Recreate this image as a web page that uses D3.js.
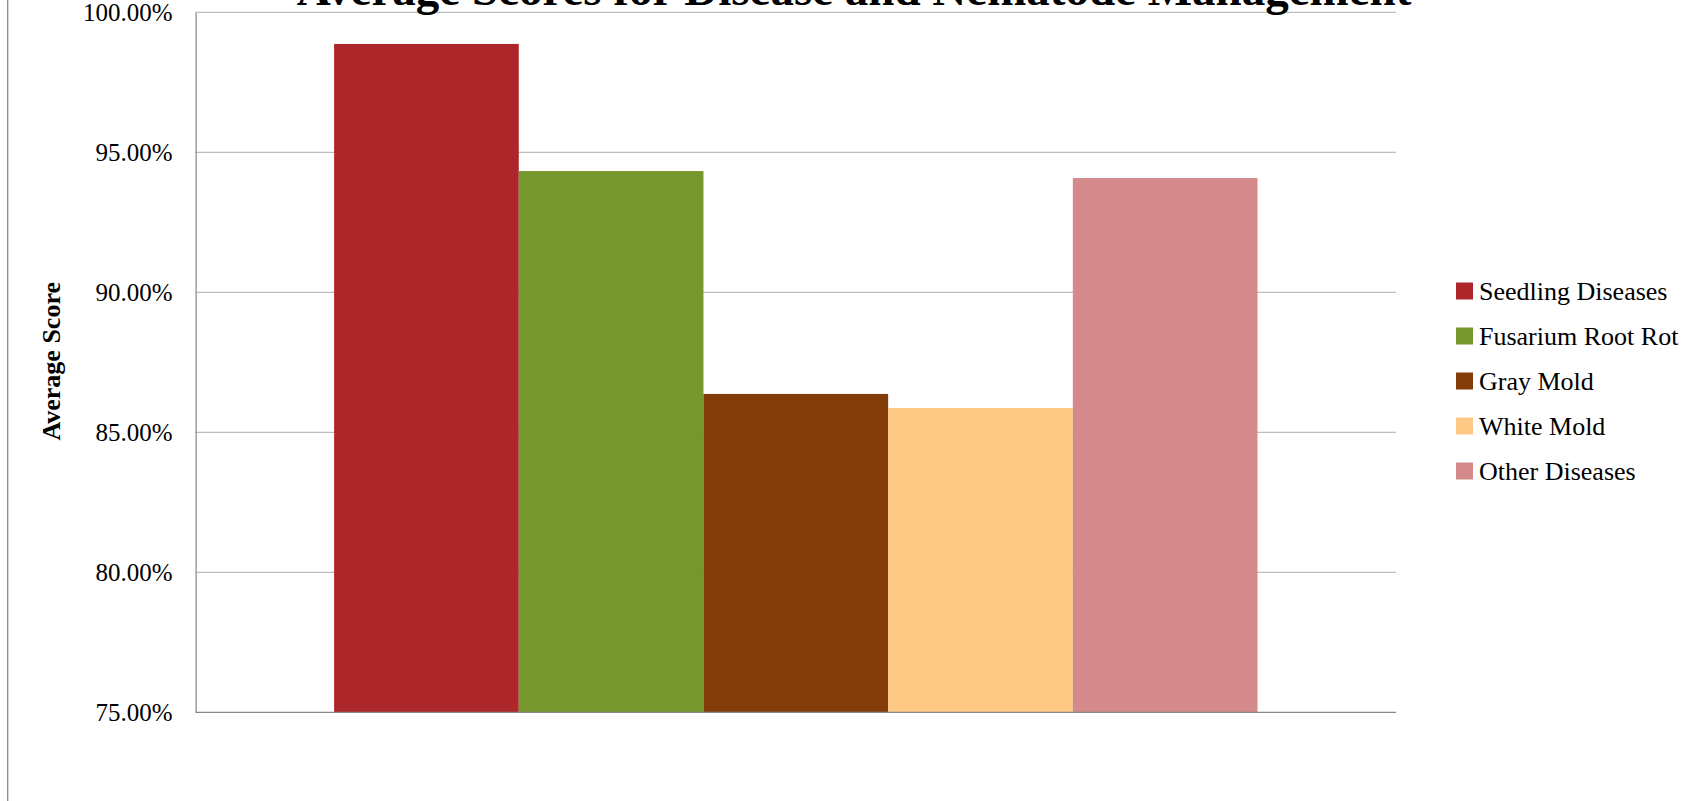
<!DOCTYPE html>
<html>
<head>
<meta charset="utf-8">
<script src="https://cdn.jsdelivr.net/npm/d3@7"></script>
<style>
  html, body { margin: 0; padding: 0; background: #ffffff; }
  svg { display: block; }
  text { font-family: "Liberation Serif", "Times New Roman", serif; fill: #000; }
</style>
</head>
<body>
<svg id="chart" width="1696" height="801"></svg>
<script>
// ---- Data ----
const chartTitle = "Average Scores for Disease and Nematode Management";
const yAxisTitle = "Average Score";
const seriesNames = ["Seedling Diseases", "Fusarium Root Rot", "Gray Mold", "White Mold", "Other Diseases"];
const seriesValues = [98.87, 94.33, 86.37, 85.87, 94.08];
const seriesColors = ["#AD272A", "#76962E", "#843C08", "#FDC985", "#D4898A"];
const tickValues = [75, 80, 85, 90, 95, 100];
const tickLabels = ["75.00%", "80.00%", "85.00%", "90.00%", "95.00%", "100.00%"];

// ---- Layout ----
const plot = { left: 195.6, right: 1396, top: 12.3, bottom: 712.3 };
const svg = d3.select("#chart");

const y = d3.scaleLinear().domain([75, 100]).range([plot.bottom, plot.top]);
const x = d3.scaleBand().domain(seriesNames).range([plot.left, plot.right])
  .paddingInner(0).paddingOuter(0.75);

// outer frame line on the left
svg.append("line").attr("x1", 7.7).attr("x2", 7.7).attr("y1", 0).attr("y2", 801)
  .attr("stroke", "#8a8a8a").attr("stroke-width", 1.3);

// gridlines
svg.append("g").selectAll("line").data(tickValues.filter(v => v !== 75)).join("line")
  .attr("x1", plot.left).attr("x2", plot.right)
  .attr("y1", d => y(d)).attr("y2", d => y(d))
  .attr("stroke", "#bdbdbd").attr("stroke-width", 1.2);

// bars
svg.append("g").selectAll("rect").data(seriesNames).join("rect")
  .attr("x", d => x(d))
  .attr("width", x.bandwidth())
  .attr("y", (d, i) => y(seriesValues[i]))
  .attr("height", (d, i) => y(75) - y(seriesValues[i]))
  .attr("fill", (d, i) => seriesColors[i]);

// y axis
const yAxis = d3.axisLeft(y).tickValues(tickValues)
  .tickFormat((d, i) => tickLabels[i]).tickSize(0).tickPadding(23);
const gy = svg.append("g").attr("transform", `translate(${plot.left},0)`).call(yAxis);
gy.select(".domain").attr("stroke", "#868686").attr("stroke-width", 1.2);
gy.selectAll("text").style("font-family", '"Liberation Serif", "Times New Roman", serif')
  .style("font-size", "25px").attr("fill", "#000");

// x axis baseline
svg.append("line").attr("x1", plot.left).attr("x2", plot.right)
  .attr("y1", y(75)).attr("y2", y(75)).attr("stroke", "#868686").attr("stroke-width", 1.2);

// title (cut off at top, as in the reference)
svg.append("text").attr("x", 854).attr("y", 5)
  .attr("text-anchor", "middle").style("font-size", "47px").style("font-weight", "bold")
  .text(chartTitle);

// y-axis title
svg.append("text").attr("transform", `translate(60,${(plot.top + plot.bottom) / 2 - 1}) rotate(-90)`)
  .attr("text-anchor", "middle").style("font-size", "26px").style("font-weight", "bold")
  .text(yAxisTitle);

// legend
const legend = svg.append("g").selectAll("g").data(seriesNames).join("g")
  .attr("transform", (d, i) => `translate(1456,${291 + i * 45})`);
legend.append("rect").attr("x", 0).attr("y", -8.5).attr("width", 17).attr("height", 17)
  .attr("fill", (d, i) => seriesColors[i]);
legend.append("text").attr("x", 23).attr("y", 0).attr("dy", "0.35em")
  .style("font-size", "26px").text(d => d);
</script>
</body>
</html>
